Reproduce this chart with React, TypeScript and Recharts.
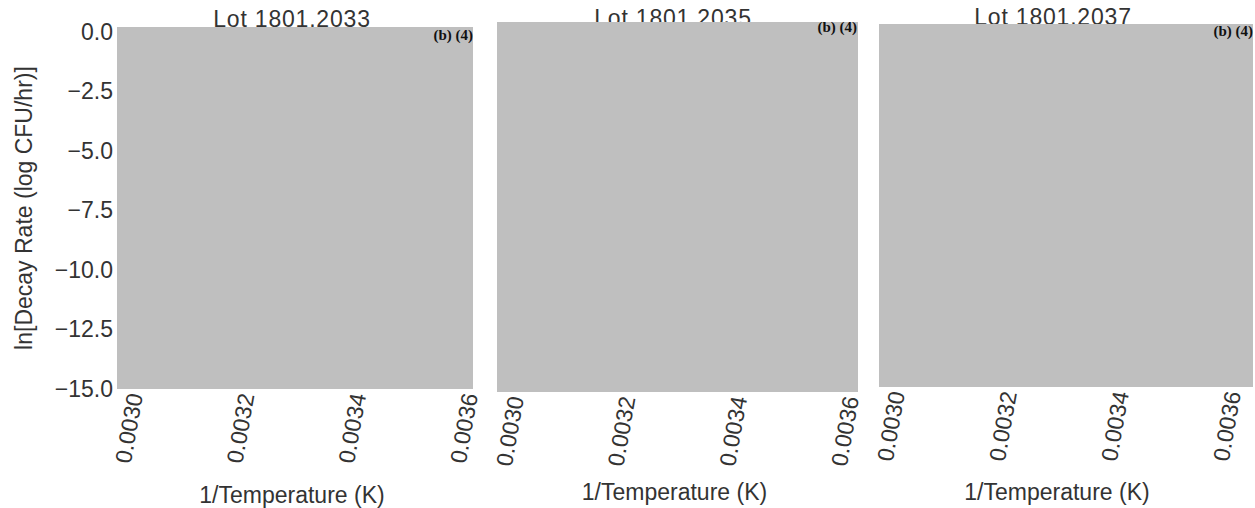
import React from "react";
import {
  ScatterChart,
  Scatter,
  XAxis,
  YAxis,
  CartesianGrid,
} from "recharts";

// lots shown side by side
const lots = ["1801.2033", "1801.2035", "1801.2037"];

// tick values
const xTicks = [0.003, 0.0032, 0.0034, 0.0036];
const yTicks = [0, -2.5, -5, -7.5, -10, -12.5, -15];

// axis ranges
const xDomains: [number, number][] = [
  [0.0029785, 0.0036161],
  [0.0029767, 0.0036233],
  [0.0029786, 0.0036464],
];
const yDomain: [number, number] = [-15.02, 0.2];

// points are redacted in the source, panels are empty
const decayPoints: { invT: number; lnRate: number }[][] = [[], [], []];
const redaction = "(b) (4)";

const FONT = '"Liberation Sans", Arial, sans-serif';
const TXT = "#333333";
const GRAY = "#bfbfbf";
const FS = 23;

// pixel layout per panel (page coords for the wrapper)
const layout = [
  { left: 0, width: 492, top: 27, right: 19, ml: 0, xh: 119, titleX: 292, titleBase: 27, noteBase: 41, noteRight: 473, labDx: -3, labBase: 503 },
  { left: 480, width: 392, top: 22, right: 14, ml: 17, xh: 116, titleX: 673, titleBase: 26.5, noteBase: 33, noteRight: 857, labDx: -3, labBase: 500 },
  { left: 870, width: 385, top: 24, right: 2, ml: 9, xh: 121, titleX: 1053, titleBase: 25.5, noteBase: 37, noteRight: 1253, labDx: -9, labBase: 500 },
];

const fmtY = (v: number) => (v === 0 ? "0.0" : "\u2212" + Math.abs(v).toFixed(1));

const XTick = ({ x, y, payload }: any) => (
  <g transform={`translate(${x + 6},${y + 4.5})`}>
    <text
      transform="rotate(-80)"
      textAnchor="end"
      dominantBaseline="central"
      fontSize={FS}
      fontFamily={FONT}
      fill={TXT}
    >
      {payload.value.toFixed(4)}
    </text>
  </g>
);

const Panel = ({ i }: { i: number }) => {
  const l = layout[i];
  return (
    <div style={{ position: "absolute", left: l.left, top: 0 }}>
      <ScatterChart
        width={l.width}
        height={508}
        margin={{ top: l.top, right: l.right, bottom: 0, left: l.ml }}
      >
        <CartesianGrid horizontal={false} vertical={false} fill={GRAY} fillOpacity={1} />
        <XAxis
          type="number"
          dataKey="invT"
          domain={xDomains[i]}
          ticks={xTicks}
          allowDataOverflow
          height={l.xh}
          axisLine={false}
          tickLine={false}
          tickSize={0}
          tickMargin={0}
          interval={0}
          tick={<XTick />}
          label={{
            content: ({ viewBox }: any) => (
              <text
                x={viewBox.x + viewBox.width / 2 + l.labDx}
                y={l.labBase}
                textAnchor="middle"
                fontSize={FS}
                fontFamily={FONT}
                fill={TXT}
              >
                1/Temperature (K)
              </text>
            ),
          }}
        />
        {i === 0 ? (
          <YAxis
            type="number"
            dataKey="lnRate"
            domain={yDomain}
            ticks={yTicks}
            allowDataOverflow
            width={117}
            axisLine={false}
            tickLine={false}
            tickSize={0}
            tickMargin={4}
            interval={0}
            tickFormatter={fmtY}
            tick={{ fontSize: FS, fontFamily: FONT, fill: TXT }}
            label={{
              content: () => (
                <text
                  transform="translate(24,208) rotate(-90)"
                  textAnchor="middle"
                  dominantBaseline="central"
                  fontSize={FS}
                  fontFamily={FONT}
                  fill={TXT}
                >
                  ln[Decay Rate (log CFU/hr)]
                </text>
              ),
            }}
          />
        ) : (
          <YAxis type="number" dataKey="lnRate" domain={yDomain} allowDataOverflow hide />
        )}
        <Scatter data={decayPoints[i]} fill="#1f77b4" isAnimationActive={false} />
      </ScatterChart>
    </div>
  );
};

export default function App() {
  return (
    <div
      style={{
        position: "absolute",
        left: 0,
        top: 0,
        width: 1255,
        height: 508,
        background: "#fff",
        overflow: "hidden",
      }}
    >
      {/* titles sit underneath the plot, the gray area clips them */}
      {lots.map((lot, i) => (
        <div
          key={"t" + lot}
          style={{
            position: "absolute",
            left: layout[i].titleX - 150,
            top: layout[i].titleBase - 19.5,
            width: 300,
            textAlign: "center",
            fontFamily: FONT,
            fontSize: 23,
            lineHeight: 1,
            letterSpacing: 0.8,
            color: TXT,
            whiteSpace: "nowrap",
          }}
        >
          Lot {lot}
        </div>
      ))}
      {lots.map((lot, i) => (
        <Panel key={lot} i={i} />
      ))}
      {lots.map((lot, i) => (
        <div
          key={"n" + lot}
          style={{
            position: "absolute",
            left: layout[i].noteRight - 80,
            top: layout[i].noteBase - 13.4,
            width: 80,
            textAlign: "right",
            fontFamily: '"Liberation Serif", "Times New Roman", serif',
            fontWeight: "bold",
            fontSize: 15,
            lineHeight: 1,
            color: "#111",
            whiteSpace: "nowrap",
          }}
        >
          {redaction}
        </div>
      ))}
    </div>
  );
}
